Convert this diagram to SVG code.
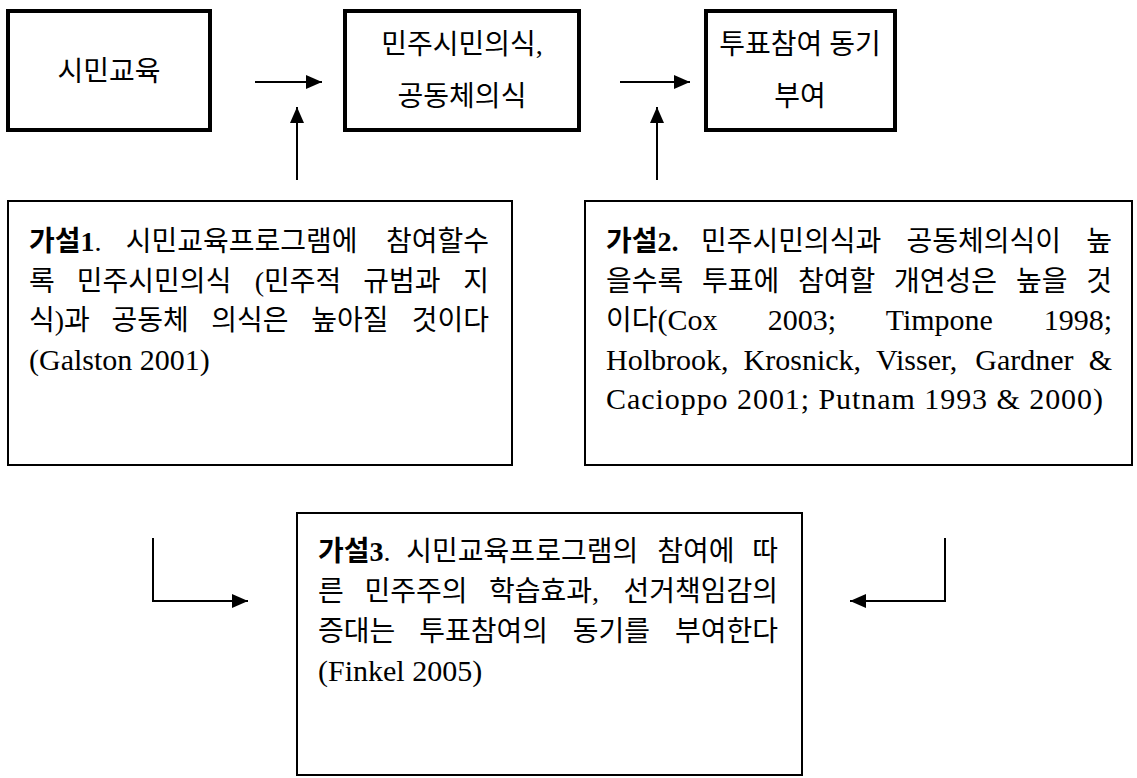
<svg xmlns="http://www.w3.org/2000/svg" width="1137" height="778" viewBox="0 0 1137 778">
<defs>
<style>
.box{fill:#fff;stroke:#000;stroke-width:4}
.hbox{fill:#fff;stroke:#000;stroke-width:2}
.t{font-family:"Liberation Serif","Noto Sans CJK KR",serif;font-size:28px;fill:#000}
.lat{font-size:30px}
.b{font-weight:bold}
.c{stroke:#000;stroke-width:2;fill:none}
.mid{text-anchor:middle}
.end{text-anchor:end}
</style>
<marker id="ah" markerUnits="userSpaceOnUse" markerWidth="16" markerHeight="14" refX="16" refY="7" orient="auto">
<path d="M0,0 L16,7 L0,14 Z" fill="#000"/>
</marker>
</defs>
<rect width="1137" height="778" fill="#fff"/>

<g id="connectors">
<line class="c" x1="255" y1="82" x2="322" y2="82" marker-end="url(#ah)"/>
<line class="c" x1="620" y1="82" x2="690" y2="82" marker-end="url(#ah)"/>
<line class="c" x1="297" y1="180" x2="297" y2="107" marker-end="url(#ah)"/>
<line class="c" x1="657" y1="180" x2="657" y2="107" marker-end="url(#ah)"/>
<path class="c" d="M153,538 V601 H248" marker-end="url(#ah)"/>
<path class="c" d="M945,538 V601 H850" marker-end="url(#ah)"/>
</g>

<g id="node-civic-edu">
<rect class="box" x="8" y="11" width="202" height="119"/>
<text class="t mid" x="109" y="81">시민교육</text>
</g>

<g id="node-democratic-awareness">
<rect class="box" x="345" y="11" width="234" height="119"/>
<text class="t mid" x="462" y="54">민주시민의식,</text>
<text class="t mid" x="462" y="106">공동체의식</text>
</g>

<g id="node-voting-motivation">
<rect class="box" x="706" y="11" width="189" height="119"/>
<text class="t mid" x="800" y="54">투표참여 동기</text>
<text class="t mid" x="800" y="106">부여</text>
</g>

<g id="node-hypothesis1">
<rect class="hbox" x="8" y="201" width="504" height="264"/>
<text class="t" y="251"><tspan x="29" class="b">가설1</tspan>.<tspan x="125.75">시민교육프로그램에</tspan></text>
<text class="t end" x="489" y="251">참여할수</text>
<text class="t" y="290.5"><tspan x="29">록</tspan><tspan x="76.83">민주시민의식</tspan><tspan x="254.67">(민주적</tspan><tspan x="363.17">규범과</tspan></text>
<text class="t end" x="489" y="290.5">지</text>
<text class="t" y="330"><tspan x="29">식)과</tspan><tspan x="111.5">공동체</tspan><tspan x="211.33">의식은</tspan><tspan x="311.17">높아질</tspan></text>
<text class="t end" x="489" y="330">것이다</text>
<text class="t lat" x="29" y="369.5">(Galston 2001)</text>
</g>

<g id="node-hypothesis2">
<rect class="hbox" x="585" y="201" width="547" height="264"/>
<text class="t" y="251"><tspan x="606" class="b">가설2.</tspan><tspan x="701">민주시민의식과</tspan><tspan x="906.5">공동체의식이</tspan></text>
<text class="t end" x="1112" y="251">높</text>
<text class="t" y="290.5"><tspan x="606">을수록</tspan><tspan x="702">투표에</tspan><tspan x="798">참여할</tspan><tspan x="894">개연성은</tspan><tspan x="1016">높을</tspan></text>
<text class="t end" x="1112" y="290.5">것</text>
<text class="t" y="330"><tspan x="606">이다</tspan><tspan class="lat">(Cox</tspan><tspan class="lat" x="767.67">2003;</tspan><tspan class="lat" x="885.67">Timpone</tspan></text>
<text class="t lat end" x="1112" y="330">1998;</text>
<text class="t lat" y="369.5"><tspan x="606">Holbrook,</tspan><tspan x="743.55">Krosnick,</tspan><tspan x="876.1">Visser,</tspan><tspan x="975.3">Gardner</tspan></text>
<text class="t lat end" x="1112" y="369.5">&amp;</text>
<text class="t lat" x="606" y="409" textLength="497" lengthAdjust="spacing">Cacioppo 2001; Putnam 1993 &amp; 2000)</text>
</g>

<g id="node-hypothesis3">
<rect class="hbox" x="297" y="513" width="505" height="262"/>
<text class="t" y="561"><tspan x="318" class="b">가설3</tspan>.<tspan x="406.33">시민교육프로그램의</tspan><tspan x="657.17">참여에</tspan></text>
<text class="t end" x="778" y="561">따</text>
<text class="t" y="601"><tspan x="318">른</tspan><tspan x="364.44">민주주의</tspan><tspan x="488.89">학습효과,</tspan></text>
<text class="t end" x="778" y="601">선거책임감의</text>
<text class="t" y="641"><tspan x="318">증대는</tspan><tspan x="419.33">투표참여의</tspan><tspan x="572.67">동기를</tspan></text>
<text class="t end" x="778" y="641">부여한다</text>
<text class="t lat" x="318" y="681">(Finkel 2005)</text>
</g>
</svg>
